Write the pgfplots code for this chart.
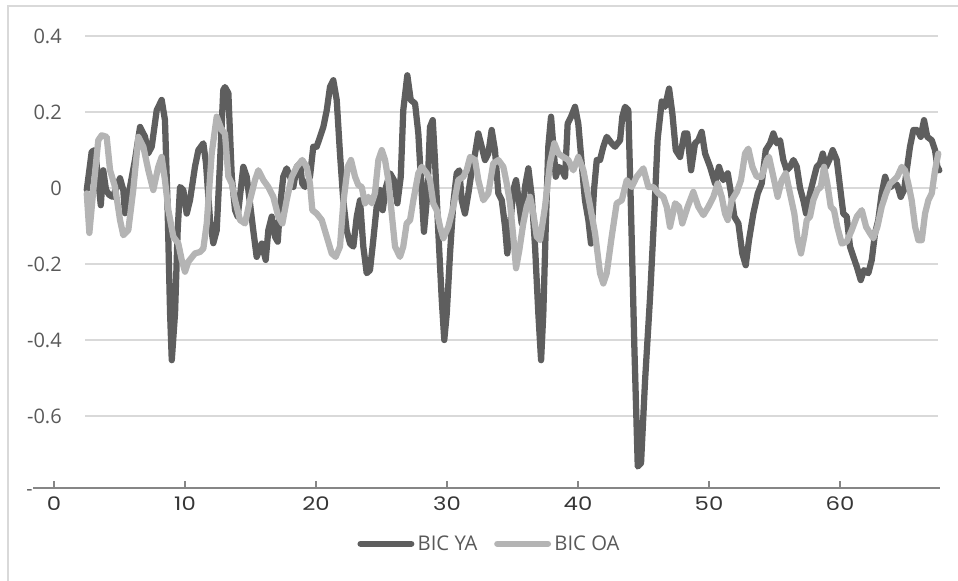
\documentclass[border=0pt]{standalone}
\usepackage{pgfplots}
\pgfplotsset{compat=1.18}
\usepackage{fontspec}
\setmainfont{Open Sans}
\newfontfamily\xfont{Poppins}
\definecolor{darkser}{HTML}{5E5E5E}
\definecolor{lightser}{HTML}{B4B4B4}
\definecolor{gridc}{HTML}{D9D9D9}
\definecolor{axisc}{HTML}{868686}
\definecolor{txt}{HTML}{595959}
\definecolor{xtxt}{HTML}{363636}
\begin{document}
\begin{tikzpicture}
\useasboundingbox (0,0) rectangle (718.5pt,435.75pt);
\draw[gridc, line width=1.1pt] (6pt,-2pt) -- (6pt,431.25pt) -- (722pt,431.25pt);
\node[text=txt, font=\fontsize{14.5pt}{17pt}\selectfont, inner sep=0pt] at (22.1pt,66.5pt) {-};
\begin{axis}[
  at={(24.75pt,69.6pt)}, anchor=south west,
  scale only axis, width=680.25pt, height=353.25pt,
  xmin=-1.603, xmax=67.63, ymin=-0.79, ymax=0.45,
  axis x line*=bottom, axis y line*=left,
  x axis line style={axisc, line width=1.1pt, -},
  y axis line style={draw=none},
  xtick={0,10,...,60}, xticklabels={0,10,20,30,40,50,60},
  tick align=inside,
  major tick length=5.25pt,
  xtick style={axisc, line width=1.1pt},
  ytick style={draw=none},
  ytick={-0.6,-0.4,-0.2,0,0.2,0.4}, yticklabels={-0.6,-0.4,-0.2,0,0.2,0.4},
  xticklabel style={font=\xfont\fontsize{14pt}{16pt}\selectfont, text=xtxt, anchor=north, inner sep=0pt, yshift=-6.5pt, xscale=1.22},
  yticklabel style={font=\fontsize{15pt}{18pt}\selectfont, text=txt, anchor=east, inner sep=0pt, xshift=21.75pt},
  legend style={at={(axis description cs:0.504,-0.118)}, anchor=center, draw=none, fill=none,
    legend columns=2, font=\fontsize{15.2pt}{18pt}\selectfont, text=txt,
    /tikz/every even column/.append style={column sep=10pt},
    nodes={inner xsep=2.5pt}},
  legend image code/.code={\draw[#1,line cap=round] (0pt,0pt) -- (38pt,0pt);},
  legend cell align=left,
  clip=false,
]
\pgfplotsinvokeforeach{-0.6,-0.4,-0.2,0,0.2,0.4}{\draw[gridc,line width=1.1pt] (axis cs:2.37,#1) -- (axis cs:67.48,#1);}
\addplot[darkser, line width=4.7pt, line join=round, line cap=round] coordinates {
(2.50,-0.005)(2.88,0.096)(3.13,0.100)(3.38,0.021)(3.57,-0.045)(3.76,0.047)(3.97,-0.005)(4.22,-0.018)(4.48,-0.023)(4.79,0.003)(5.04,0.026)(5.29,-0.005)(5.42,-0.066)(5.80,0.003)(6.18,0.074)(6.57,0.161)(6.95,0.135)(7.20,0.092)(7.46,0.109)(7.84,0.205)(8.22,0.232)(8.47,0.179)(8.65,-0.023)(8.86,-0.329)(8.99,-0.453)(9.24,-0.329)(9.44,-0.111)(9.62,0.003)(9.87,-0.005)(10.13,-0.067)(10.38,-0.032)(10.76,0.056)(11.02,0.100)(11.40,0.118)(11.60,0.066)(11.91,-0.084)(12.16,-0.145)(12.42,-0.111)(12.67,0.066)(12.92,0.258)(13.05,0.266)(13.31,0.250)(13.57,0.030)(13.82,-0.058)(14.02,-0.075)(14.45,0.056)(14.71,0.030)(14.96,-0.040)(15.21,-0.111)(15.47,-0.181)(15.86,-0.146)(16.16,-0.189)(16.36,-0.111)(16.62,-0.075)(16.87,-0.128)(17.08,-0.141)(17.25,-0.049)(17.50,0.030)(17.76,0.052)(18.02,0.030)(18.27,0.003)(18.53,0.056)(18.78,0.065)(18.95,0.012)(19.16,0.003)(19.54,0.030)(19.79,0.109)(20.05,0.109)(20.31,0.135)(20.56,0.161)(20.82,0.205)(21.07,0.267)(21.32,0.284)(21.58,0.232)(21.83,0.091)(22.08,-0.032)(22.34,-0.111)(22.60,-0.146)(22.85,-0.154)(23.11,-0.075)(23.36,-0.032)(23.61,-0.154)(23.87,-0.224)(24.12,-0.216)(24.37,-0.137)(24.63,-0.049)(24.89,-0.005)(25.09,-0.058)(25.34,0.003)(25.65,0.039)(25.95,0.021)(26.21,-0.040)(26.47,0.030)(26.66,0.205)(26.97,0.297)(27.23,0.232)(27.56,0.223)(27.81,0.144)(28.07,-0.014)(28.24,-0.115)(28.50,-0.014)(28.70,0.161)(28.91,0.179)(29.08,0.074)(29.34,-0.119)(29.60,-0.295)(29.79,-0.400)(29.98,-0.330)(30.23,-0.172)(30.48,-0.040)(30.74,0.039)(30.94,0.047)(31.12,-0.032)(31.37,-0.067)(31.63,-0.014)(31.89,0.047)(32.14,0.091)(32.39,0.144)(32.65,0.109)(32.90,0.074)(33.15,0.091)(33.41,0.153)(33.66,0.100)(33.92,-0.014)(34.18,-0.032)(34.43,-0.102)(34.60,-0.172)(34.81,-0.102)(35.06,-0.005)(35.27,0.021)(35.44,-0.023)(35.70,-0.093)(35.95,0.003)(36.21,0.052)(36.47,-0.023)(36.72,-0.154)(36.97,-0.330)(37.18,-0.453)(37.35,-0.330)(37.53,-0.111)(37.73,0.109)(37.94,0.188)(38.12,0.109)(38.30,0.030)(38.55,0.056)(38.76,0.047)(39.01,0.030)(39.21,0.170)(39.47,0.188)(39.77,0.214)(40.02,0.170)(40.28,0.065)(40.53,-0.032)(40.79,-0.084)(40.99,-0.146)(41.22,-0.005)(41.43,0.074)(41.68,0.074)(41.93,0.109)(42.19,0.135)(42.57,0.118)(42.82,0.109)(43.21,0.126)(43.38,0.188)(43.59,0.214)(43.84,0.205)(44.05,-0.067)(44.30,-0.418)(44.56,-0.733)(44.81,-0.724)(45.12,-0.505)(45.50,-0.286)(45.82,-0.067)(46.08,0.130)(46.39,0.228)(46.64,0.214)(46.95,0.262)(47.20,0.197)(47.46,0.100)(47.79,0.082)(48.12,0.144)(48.34,0.144)(48.63,0.047)(48.93,0.118)(49.18,0.126)(49.44,0.148)(49.70,0.091)(50.08,0.056)(50.46,0.012)(50.76,0.056)(51.09,0.021)(51.43,0.039)(51.68,-0.014)(51.93,-0.075)(52.24,-0.093)(52.54,-0.172)(52.80,-0.203)(53.05,-0.137)(53.38,-0.067)(53.72,-0.014)(54.02,0.012)(54.33,0.100)(54.66,0.118)(54.91,0.144)(55.17,0.118)(55.42,0.126)(55.67,0.074)(55.93,0.047)(56.18,0.056)(56.44,0.074)(56.70,0.056)(56.95,0.000)(57.20,-0.032)(57.41,-0.067)(57.71,-0.014)(57.96,0.021)(58.22,0.056)(58.47,0.065)(58.68,0.091)(58.93,0.056)(59.18,0.074)(59.44,0.100)(59.75,0.074)(60.00,0.003)(60.25,-0.067)(60.51,-0.075)(60.76,-0.154)(61.02,-0.181)(61.28,-0.207)(61.58,-0.242)(61.83,-0.216)(62.16,-0.224)(62.42,-0.189)(62.67,-0.119)(62.92,-0.084)(63.18,-0.014)(63.44,0.030)(63.61,0.012)(63.87,0.003)(64.12,0.012)(64.37,0.008)(64.63,-0.023)(64.89,-0.005)(65.09,0.047)(65.34,0.109)(65.60,0.153)(65.90,0.153)(66.16,0.135)(66.41,0.179)(66.66,0.135)(67.00,0.126)(67.25,0.100)(67.43,0.056)(67.58,0.047)
};
\addlegendentry{BIC YA}
\addplot[lightser, line width=4.7pt, line join=round, line cap=round] coordinates {
(2.50,-0.014)(2.70,-0.118)(3.00,-0.005)(3.38,0.126)(3.64,0.139)(4.02,0.135)(4.28,0.047)(4.66,0.003)(5.04,-0.084)(5.29,-0.124)(5.67,-0.111)(6.05,-0.005)(6.44,0.135)(6.82,0.109)(7.20,0.047)(7.58,-0.005)(7.96,0.056)(8.22,0.082)(8.47,0.021)(8.73,-0.058)(9.11,-0.128)(9.49,-0.146)(9.75,-0.189)(10.00,-0.220)(10.25,-0.194)(10.76,-0.172)(11.15,-0.168)(11.40,-0.159)(11.66,-0.093)(12.04,0.092)(12.42,0.188)(12.80,0.153)(13.05,0.144)(13.31,0.030)(13.57,0.012)(13.82,-0.032)(14.20,-0.084)(14.58,-0.093)(14.96,-0.032)(15.34,0.021)(15.60,0.047)(15.98,0.021)(16.36,0.003)(16.74,-0.023)(17.12,-0.075)(17.43,-0.093)(17.76,-0.032)(18.15,0.030)(18.53,0.056)(18.95,0.074)(19.29,0.056)(19.54,0.012)(19.72,-0.058)(20.05,-0.067)(20.44,-0.084)(20.82,-0.128)(21.20,-0.172)(21.50,-0.181)(21.83,-0.154)(22.08,-0.040)(22.42,0.056)(22.67,0.074)(22.98,0.030)(23.23,0.008)(23.49,0.003)(23.74,-0.040)(23.99,-0.023)(24.25,-0.040)(24.50,-0.013)(24.76,0.074)(25.02,0.100)(25.27,0.074)(25.52,0.021)(25.78,-0.067)(26.03,-0.154)(26.41,-0.181)(26.66,-0.154)(26.92,-0.093)(27.18,-0.084)(27.43,-0.032)(27.81,0.039)(28.07,0.056)(28.45,0.039)(28.70,0.021)(28.95,-0.040)(29.21,-0.058)(29.47,-0.102)(29.72,-0.132)(30.10,-0.102)(30.48,-0.049)(30.86,0.021)(31.24,0.030)(31.50,0.047)(31.76,0.082)(32.14,0.074)(32.39,0.021)(32.77,-0.032)(33.15,-0.014)(33.53,0.065)(33.92,0.074)(34.30,0.056)(34.56,0.012)(34.81,-0.040)(35.06,-0.128)(35.27,-0.211)(35.52,-0.163)(35.82,-0.093)(36.08,-0.049)(36.34,-0.023)(36.59,-0.067)(36.85,-0.128)(37.10,-0.137)(37.48,-0.049)(37.86,0.065)(38.19,0.118)(38.50,0.091)(38.88,0.082)(39.26,0.074)(39.64,0.047)(40.02,0.082)(40.41,0.047)(40.79,-0.023)(41.30,-0.119)(41.68,-0.224)(41.93,-0.251)(42.19,-0.224)(42.57,-0.128)(42.95,-0.040)(43.34,-0.032)(43.72,0.021)(44.10,0.003)(44.48,0.030)(44.99,0.052)(45.37,0.003)(45.75,0.003)(46.13,-0.014)(46.51,-0.023)(46.77,-0.049)(47.02,-0.102)(47.41,-0.040)(47.71,-0.049)(47.96,-0.093)(48.37,-0.049)(48.80,-0.010)(49.18,-0.049)(49.57,-0.071)(49.95,-0.049)(50.33,-0.023)(50.66,0.012)(50.97,-0.023)(51.22,-0.067)(51.43,-0.084)(51.73,-0.032)(52.12,-0.010)(52.44,0.021)(52.75,0.091)(53.00,0.104)(53.31,0.056)(53.64,0.030)(54.02,0.030)(54.41,0.074)(54.58,0.082)(54.91,0.030)(55.24,-0.023)(55.55,0.021)(55.86,0.039)(56.18,-0.014)(56.51,-0.067)(56.77,-0.137)(57.02,-0.172)(57.28,-0.126)(57.46,-0.084)(57.71,-0.075)(57.96,-0.032)(58.27,-0.005)(58.53,0.003)(58.78,0.056)(59.03,0.012)(59.29,-0.049)(59.54,-0.058)(59.79,-0.102)(60.13,-0.146)(60.51,-0.141)(60.89,-0.111)(61.28,-0.075)(61.66,-0.058)(61.99,-0.102)(62.29,-0.119)(62.54,-0.132)(62.85,-0.102)(63.18,-0.049)(63.51,-0.014)(63.82,0.012)(64.12,0.021)(64.37,0.030)(64.71,0.056)(64.96,0.047)(65.21,0.012)(65.47,-0.032)(65.73,-0.102)(65.98,-0.137)(66.24,-0.137)(66.49,-0.067)(66.74,-0.032)(67.00,-0.014)(67.25,0.047)(67.50,0.091)
};
\addlegendentry{BIC OA}
\end{axis}
\end{tikzpicture}
\end{document}
